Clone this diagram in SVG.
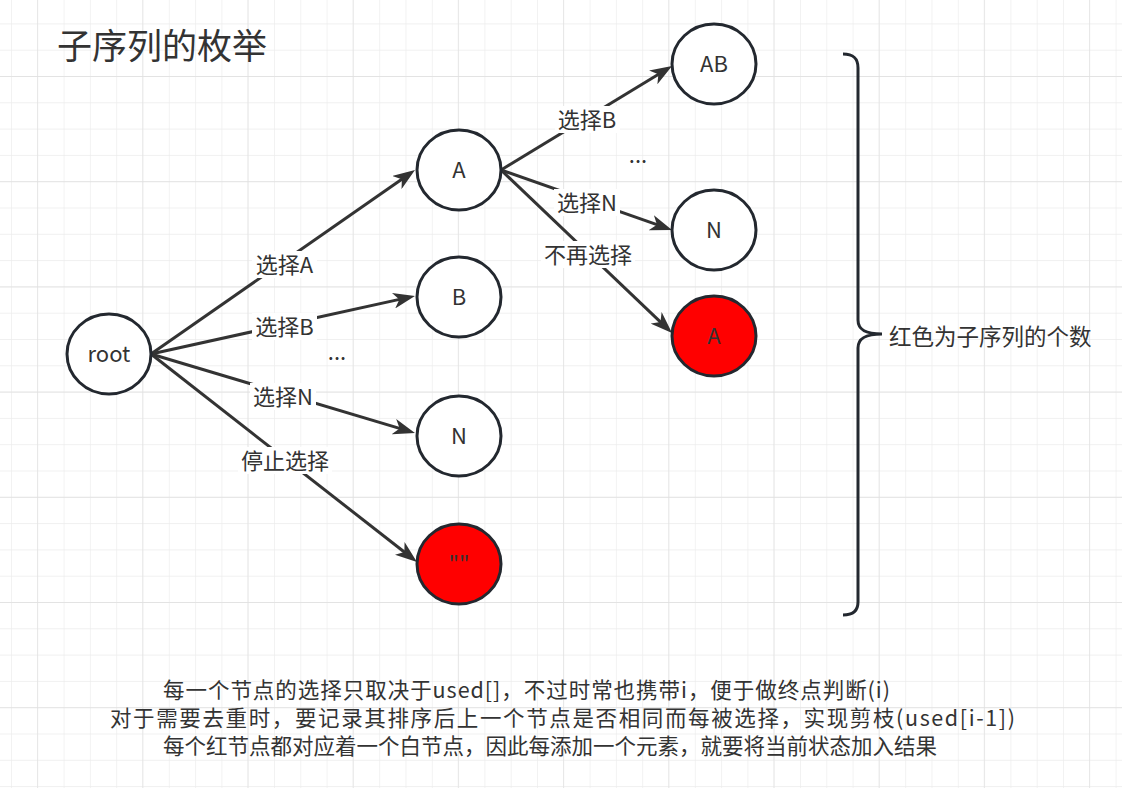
<svg xmlns="http://www.w3.org/2000/svg" width="1122" height="788" viewBox="0 0 1122 788">
<style>
text{font-family:"Noto Sans CJK SC","Noto Sans",sans-serif;fill:#333333;}
.node{stroke:#23282f;stroke-width:3;fill:#ffffff;}
.red{fill:#ff0000;}
.nl{font-size:22px;text-anchor:middle;}
.el{font-size:22px;text-anchor:middle;}
.bg{fill:#ffffff;}
.edge{stroke:#333333;stroke-width:3;fill:none;}
.note{font-size:21.5px;text-anchor:middle;}
</style>
<defs>
<pattern id="minor" patternUnits="userSpaceOnUse" x="11" y="23.4" width="26.3" height="26.3">
<path d="M0 0H26.3M0 0V26.3" stroke="#ececec" stroke-width="1.3" fill="none"/>
</pattern>
<pattern id="major" patternUnits="userSpaceOnUse" x="37" y="76" width="105.2" height="105.2">
<path d="M0 0H105.2M0 0V105.2" stroke="#e0e0e0" stroke-width="1.3" fill="none"/>
</pattern>
<marker id="arr" markerUnits="userSpaceOnUse" viewBox="0 0 22 16" markerWidth="22" markerHeight="16" refX="12" refY="8" orient="auto">
<path d="M0,0 L22,8 L0,16 L6,8 Z" fill="#333333"/>
</marker>
</defs>
<rect width="1122" height="788" fill="#ffffff"/>
<rect width="1122" height="788" fill="url(#minor)"/>
<rect width="1122" height="788" fill="url(#major)"/>

<text x="57" y="59" style="font-size:35px">子序列的枚举</text>

<g id="connectors">
<line class="edge" x1="151" y1="354" x2="406.8" y2="175.7" marker-end="url(#arr)"/>
<line class="edge" x1="151" y1="354" x2="405.2" y2="298.1" marker-end="url(#arr)"/>
<line class="edge" x1="151" y1="354" x2="405.4" y2="430.1" marker-end="url(#arr)"/>
<line class="edge" x1="151" y1="354" x2="409.1" y2="555.8" marker-end="url(#arr)"/>
<line class="edge" x1="501" y1="170" x2="663.5" y2="71.2" marker-end="url(#arr)"/>
<line class="edge" x1="501" y1="170" x2="662.6" y2="226.7" marker-end="url(#arr)"/>
<line class="edge" x1="501" y1="170" x2="664.8" y2="326.1" marker-end="url(#arr)"/>
<rect class="bg" x="252" y="251" width="65" height="27"/>
<text class="el" x="284.5" y="273">选择A</text>
<rect class="bg" x="252" y="313" width="65" height="27"/>
<text class="el" x="284.5" y="335">选择B</text>
<rect class="bg" x="250" y="383" width="66" height="27"/>
<text class="el" x="283" y="405">选择N</text>
<rect class="bg" x="238" y="447" width="94" height="27"/>
<text class="el" x="285" y="469">停止选择</text>
<text class="el" x="337" y="360">...</text>
<rect class="bg" x="555" y="106" width="65" height="27"/>
<text class="el" x="587" y="128">选择B</text>
<text class="el" x="638" y="163">...</text>
<rect class="bg" x="554" y="189" width="66" height="27"/>
<text class="el" x="587" y="211">选择N</text>
<rect class="bg" x="541" y="241" width="94" height="27"/>
<text class="el" x="588" y="263">不再选择</text>
</g>

<g id="root"><ellipse class="node" cx="109" cy="354" rx="42" ry="40"/><text class="nl" x="109" y="362">root</text></g>
<g id="nodeA"><ellipse class="node" cx="459" cy="170" rx="42" ry="40"/><text class="nl" x="459" y="178">A</text></g>
<g id="nodeB"><ellipse class="node" cx="459" cy="297" rx="42" ry="40"/><text class="nl" x="459" y="305">B</text></g>
<g id="nodeN"><ellipse class="node" cx="459" cy="436" rx="42" ry="40"/><text class="nl" x="459" y="444">N</text></g>
<g id="nodeEmpty"><ellipse class="node red" cx="459" cy="564" rx="42" ry="40"/><text class="nl" x="459" y="572">""</text></g>
<g id="nodeAB"><ellipse class="node" cx="714" cy="64" rx="42" ry="40"/><text class="nl" x="714" y="72">AB</text></g>
<g id="nodeAN"><ellipse class="node" cx="714" cy="230" rx="42" ry="40"/><text class="nl" x="714" y="238">N</text></g>
<g id="nodeAA"><ellipse class="node red" cx="714" cy="336" rx="42" ry="40"/><text class="nl" x="714" y="344">A</text></g>

<g id="brace">
<path d="M843,54 C853,54 858,58 858,68 L858,320 C858,330 866,334 882,334 C866,334 858,338 858,348 L858,602 C858,611 853,615 843,615" fill="none" stroke="#23282f" stroke-width="3"/>
<text x="889" y="345" style="font-size:22.5px">红色为子序列的个数</text>
</g>

<g id="notes">
<text class="note" x="526.5" y="698" textLength="727">每一个节点的选择只取决于used[]，不过时常也携带i，便于做终点判断(i)</text>
<text class="note" x="562.5" y="726" textLength="905">对于需要去重时，要记录其排序后上一个节点是否相同而每被选择，实现剪枝(used[i-1])</text>
<text class="note" x="550" y="754">每个红节点都对应着一个白节点，因此每添加一个元素，就要将当前状态加入结果</text>
</g>
</svg>
